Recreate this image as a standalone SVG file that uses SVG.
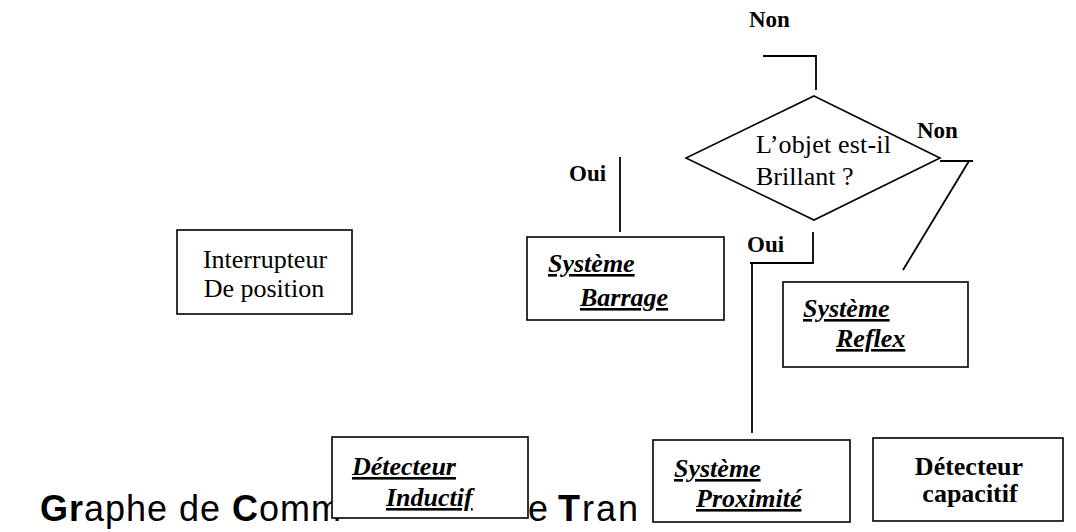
<svg xmlns="http://www.w3.org/2000/svg" width="1076" height="532" viewBox="0 0 1076 532">
  <style>
    .box { fill: #ffffff; stroke: #000000; stroke-width: 1.6; }
    .wire { fill: none; stroke: #000000; stroke-width: 1.8; }
    .serif { font-family: "Liberation Serif", "Times New Roman", serif; font-size: 26px; fill: #000000; }
    .label { font-family: "Liberation Serif", "Times New Roman", serif; font-size: 23px; font-weight: bold; fill: #000000; }
    .link { font-weight: bold; font-style: italic; text-decoration: underline; }
    .title { font-family: "Liberation Sans", Arial, sans-serif; font-size: 36px; fill: #000000; }
  </style>
  <rect width="1076" height="532" fill="#ffffff"/>

  <!-- Title line; the lower boxes sit on top of it -->
  <g id="title">
    <text class="title" x="40" y="521" textLength="301" lengthAdjust="spacing"><tspan font-weight="bold">Gr</tspan>aphe de <tspan font-weight="bold">C</tspan>omm</text>
    <text class="title" x="528" y="521">e<tspan x="558" letter-spacing="2"><tspan font-weight="bold">T</tspan>ran</tspan></text>
  </g>

  <!-- Connectors -->
  <g id="connectors">
    <polyline class="wire" points="763,56 816,56 816,90"/>
    <line class="wire" x1="940" y1="161" x2="973" y2="161"/>
    <line class="wire" x1="969" y1="161" x2="903" y2="270"/>
    <line class="wire" x1="620" y1="157" x2="620" y2="232"/>
    <polyline class="wire" points="813,232 813,263 750,263"/>
    <line class="wire" x1="752" y1="263" x2="752" y2="433"/>
  </g>

  <!-- Branch labels -->
  <g id="labels">
    <text class="label" x="749" y="27">Non</text>
    <text class="label" x="917" y="138">Non</text>
    <text class="label" x="569" y="181">Oui</text>
    <text class="label" x="747" y="252">Oui</text>
  </g>

  <!-- Decision -->
  <g id="decision">
    <polygon class="box" points="814,96 940,158 814,220 686,158"/>
    <text class="serif" x="756" y="153" textLength="135" lengthAdjust="spacing">L’objet est-il</text>
    <text class="serif" x="756" y="185">Brillant ?</text>
  </g>

  <g id="interrupteur">
    <rect class="box" x="177" y="230" width="175" height="84"/>
    <text class="serif" x="265" y="268" text-anchor="middle">Interrupteur</text>
    <text class="serif" x="264" y="297" text-anchor="middle">De position</text>
  </g>

  <g id="barrage">
    <rect class="box" x="527" y="237" width="197" height="83"/>
    <text class="serif link" x="548" y="272">Système</text>
    <text class="serif link" x="580" y="306">Barrage</text>
  </g>

  <g id="reflex">
    <rect class="box" x="783" y="282" width="185" height="85"/>
    <text class="serif link" x="803" y="317">Système</text>
    <text class="serif link" x="836" y="347">Reflex</text>
  </g>

  <g id="inductif">
    <rect class="box" x="332" y="437" width="196" height="81"/>
    <text class="serif link" x="352" y="475">Détecteur</text>
    <text class="serif link" x="386" y="506">Inductif</text>
  </g>

  <g id="proximite">
    <rect class="box" x="653" y="440" width="197" height="82"/>
    <text class="serif link" x="674" y="477">Système</text>
    <text class="serif link" x="696" y="507">Proximité</text>
  </g>

  <g id="capacitif">
    <rect class="box" x="873" y="438" width="190" height="83"/>
    <text class="serif" x="969" y="475" text-anchor="middle" font-weight="bold">Détecteur</text>
    <text class="serif" x="970" y="502" text-anchor="middle" font-weight="bold">capacitif</text>
  </g>
</svg>
